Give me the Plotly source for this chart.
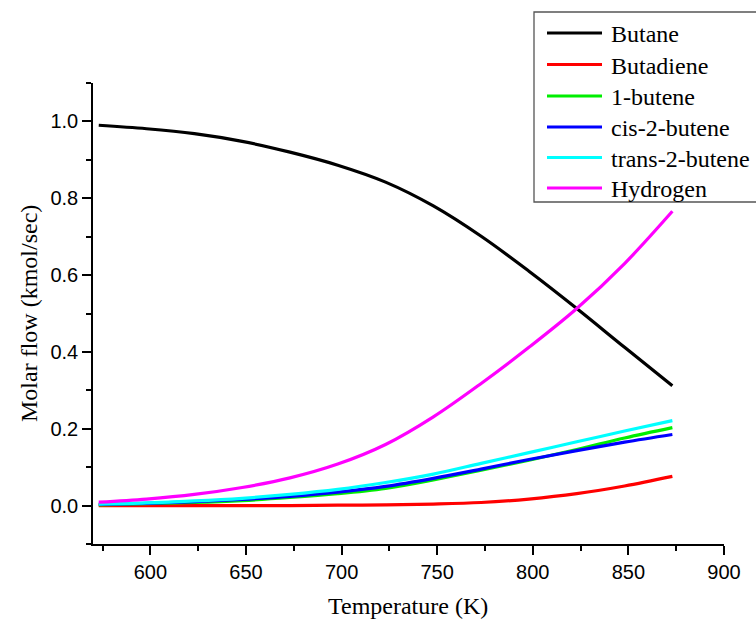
import plotly.graph_objects as go

# Reactor temperature (K)
temperature = [573, 598, 623, 648, 673, 698, 723, 748, 773, 798, 823, 848, 873]

# Outlet molar flows (kmol/sec)
butane = [0.990, 0.981, 0.968, 0.948, 0.920, 0.886, 0.842, 0.780, 0.701, 0.610, 0.513, 0.412, 0.312]
butadiene = [0.000, 0.000, 0.000, 0.000, 0.000, 0.001, 0.002, 0.004, 0.008, 0.017, 0.031, 0.051, 0.076]
butene_1 = [0.002, 0.005, 0.008, 0.013, 0.021, 0.031, 0.045, 0.067, 0.092, 0.118, 0.146, 0.176, 0.203]
cis_2_butene = [0.003, 0.006, 0.010, 0.016, 0.024, 0.035, 0.050, 0.071, 0.095, 0.120, 0.143, 0.165, 0.185]
trans_2_butene = [0.004, 0.007, 0.012, 0.019, 0.029, 0.042, 0.060, 0.082, 0.110, 0.138, 0.166, 0.194, 0.221]
hydrogen = [0.009, 0.017, 0.029, 0.047, 0.072, 0.108, 0.159, 0.231, 0.318, 0.412, 0.513, 0.630, 0.766]

series_names = ["Butane", "Butadiene", "1-butene", "cis-2-butene", "trans-2-butene", "Hydrogen"]
series_values = [butane, butadiene, butene_1, cis_2_butene, trans_2_butene, hydrogen]
series_colors = ["#000000", "#FF0000", "#00EE00", "#0000FF", "#00FFFF", "#FF00FF"]

W, H = 756, 622
ML, MR, MT, MB = 93, 32, 83, 78

fig = go.Figure()
for name, vals, col in zip(series_names, series_values, series_colors):
    fig.add_trace(go.Scatter(
        x=temperature, y=vals, name=name, mode="lines",
        line=dict(color=col, width=3.2, shape="spline", smoothing=1.0),
        showlegend=False,
    ))

# Boxed legend in the upper-right corner (pixel layout converted to paper units)
pw, ph = W - ML - MR, H - MT - MB
def px(x):
    return (x - ML) / pw
def py(y):
    return (H - MB - y) / ph

shapes = [dict(type="rect", xref="paper", yref="paper",
               x0=px(534), x1=px(790), y0=py(202), y1=py(12),
               line=dict(color="#555555", width=1.3), fillcolor="white", layer="above")]
annotations = []
row_y = [33, 64.5, 96, 127, 157.5, 188]
for name, col, ry in zip(series_names, series_colors, row_y):
    shapes.append(dict(type="line", xref="paper", yref="paper",
                       x0=px(547), x1=px(602), y0=py(ry), y1=py(ry),
                       line=dict(color=col, width=3.2), layer="above"))
    annotations.append(dict(xref="paper", yref="paper", x=px(609), y=py(ry + 1),
                            text=name, showarrow=False, xanchor="left", yanchor="middle",
                            font=dict(family="Liberation Serif", size=24, color="black")))

# Axis titles placed in the margins
annotations.append(dict(xref="paper", yref="paper", x=px(408), y=py(606),
                        text="Temperature (K)", showarrow=False,
                        xanchor="center", yanchor="middle",
                        font=dict(family="Liberation Serif", size=24, color="black")))
annotations.append(dict(xref="paper", yref="paper", x=px(29), y=py(314),
                        text="Molar flow (kmol/sec)", showarrow=False, textangle=-90,
                        xanchor="center", yanchor="middle",
                        font=dict(family="Liberation Serif", size=24, color="black")))

axis_common = dict(
    showline=True, linecolor="black", linewidth=1.6, mirror=False,
    showgrid=False, zeroline=False, automargin=False,
    ticks="outside", ticklen=9, tickwidth=1.6, tickcolor="black",
    tickfont=dict(family="Liberation Sans", size=20, color="black"),
)

fig.update_layout(
    width=W, height=H,
    margin=dict(l=ML, r=MR, t=MT, b=MB),
    paper_bgcolor="white", plot_bgcolor="white",
    xaxis=dict(range=[570, 900], tick0=600, dtick=50,
               minor=dict(tick0=575, dtick=25, ticks="outside", ticklen=5,
                          tickwidth=1.6, tickcolor="black"),
               **axis_common),
    yaxis=dict(range=[-0.1, 1.1], tick0=0, dtick=0.2, tickformat=".1f",
               minor=dict(tick0=-0.1, dtick=0.1, ticks="outside", ticklen=5,
                          tickwidth=1.6, tickcolor="black"),
               **axis_common),
    shapes=shapes,
    annotations=annotations,
)

fig.write_html("out.html")
